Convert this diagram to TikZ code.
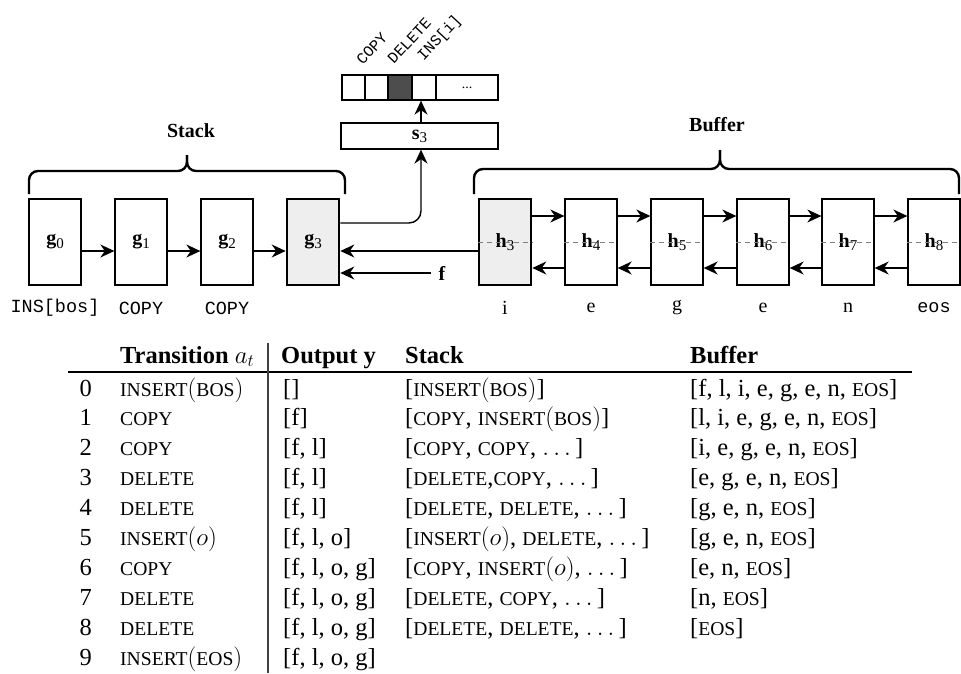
\documentclass[tikz,border=0pt]{standalone}
\usepackage{fontspec}
\setmainfont{Liberation Serif}
\setmonofont{Liberation Mono}
\usetikzlibrary{arrows.meta,calc}
\definecolor{curgray}{HTML}{EEEEEE}
\definecolor{darkcell}{HTML}{4D4D4D}
\newcommand\smc[1]{{\fontsize{19.6}{24}\selectfont #1}}
\newcommand\subx[1]{\raisebox{-0.35ex}{\fontsize{15}{15}\selectfont #1}}
\begin{document}
\begin{tikzpicture}[x=1pt,y=-1pt,
  box/.style={draw, line width=1.3pt, minimum width=52pt, minimum height=86pt, inner sep=0pt, font=\fontsize{20}{24}\selectfont},
  curbox/.style={box, fill=curgray, line width=2.6pt},
  cell/.style={draw, line width=1.3pt, minimum height=25pt, inner sep=0pt},
  arr/.style={line width=1.4pt, -{Stealth[length=14pt,width=13pt,inset=4.5pt]}},
  hdash/.style={draw=black!50, line width=1pt, dash pattern=on 5pt off 4pt},
  brace/.style={line width=2.4pt, rounded corners=9pt},
  lbl/.style={font=\fontsize{20}{24}\selectfont, inner sep=1pt},
  ttl/.style={font=\ttfamily\fontsize{18.5}{22}\selectfont, inner sep=1pt},
  rotl/.style={font=\ttfamily\fontsize{15.5}{18}\selectfont, rotate=47, anchor=south west, inner sep=0pt},
  tcell/.style={font=\fontsize{24.5}{29}\selectfont, inner sep=0pt, anchor=base west}
]
\useasboundingbox (0,0) rectangle (961,673);

% stack boxes
\node[box] (g0) at (55,242) {\textbf{g}\subx{0}};
\node[box] (g1) at (141,242) {\textbf{g}\subx{1}};
\node[box] (g2) at (227,242) {\textbf{g}\subx{2}};
\node[curbox] (g3) at (313,242) {\textbf{g}\subx{3}};

% buffer boxes
\node[curbox] (h3) at (505,242) {\textbf{h}\subx{3}};
\node[box] (h4) at (591,242) {\textbf{h}\subx{4}};
\node[box] (h5) at (677,242) {\textbf{h}\subx{5}};
\node[box] (h6) at (763,242) {\textbf{h}\subx{6}};
\node[box] (h7) at (848,242) {\textbf{h}\subx{7}};
\node[box] (h8) at (934,242) {\textbf{h}\subx{8}};
\foreach \j in {3,...,8} \draw[hdash] (h\j.west) -- (h\j.east);

% stack arrows
\draw[arr] ([yshift=-9pt]g0.east) -- ([yshift=-9pt]g1.west);
\draw[arr] ([yshift=-9pt]g1.east) -- ([yshift=-9pt]g2.west);
\draw[arr] ([yshift=-9pt]g2.east) -- ([yshift=-9pt]g3.west);

% buffer arrows
\foreach \a/\b in {3/4,4/5,5/6,6/7,7/8} {
  \draw[arr] ([yshift=26pt]h\a.east) -- ([yshift=26pt]h\b.west);
  \draw[arr] ([yshift=-26pt]h\b.west) -- ([yshift=-26pt]h\a.east);
}

% h3 -> g3 and f
\draw[arr] ([yshift=-9pt]h3.west) -- ([yshift=-9pt]g3.east);
\node[lbl, inner xsep=7pt] (f) at (442,273) {\textbf{f}};
\draw[arr] (f.west) -- (f.west -| g3.east);

% output vector and s3
\node[cell, minimum width=23pt] (v1) at (353.5,87.5) {};
\node[cell, minimum width=23pt] (v2) at (376.5,87.5) {};
\node[cell, minimum width=24pt, fill=darkcell] (v3) at (400,87.5) {};
\node[cell, minimum width=24pt] (v4) at (424,87.5) {};
\node[cell, minimum width=62pt, font=\fontsize{14}{16}\selectfont] (v5) at (467,87.5) {...};
\node[cell, minimum width=157pt, minimum height=26pt, font=\fontsize{20}{24}\selectfont] (s3) at (419.5,136) {\textbf{s}\subx{3}};
\coordinate (sx) at (421,0);
\draw[arr, rounded corners=12pt] ([yshift=19pt]g3.east) -| (sx |- s3.south);
\draw[arr] (sx |- s3.north) -- (sx |- v4.south);

\node[rotl] (rc) at (363,66) {COPY};
\node[rotl] (rd) at (394,65) {DELETE};
\node[rotl] (ri) at (426,64) {INS[i]};

% braces
\draw[brace] (29,194) -- (29,171) -- (187,171) -- (187,155);
\draw[brace] (345,194) -- (345,171) -- (187,171) -- (187,155);
\draw[brace] (474,194) -- (474,169) -- (720,169) -- (720,150);
\draw[brace] (959,194) -- (959,169) -- (720,169) -- (720,150);
\node[lbl] (stk) at (191,131) {\textbf{Stack}};
\node[lbl] (buf) at (717,125) {\textbf{Buffer}};

% labels under boxes
\node[ttl] (lg0) at (g0.center |- 0,308) {INS[bos]};
\node[ttl] (lg1) at (g1.center |- 0,308) {COPY};
\node[ttl] (lg2) at (g2.center |- 0,308) {COPY};
\node[lbl] (lh3) at (h3.center |- 0,308) {i};
\node[lbl] (lh4) at (h4.center |- 0,308) {e};
\node[lbl] (lh5) at (h5.center |- 0,308) {g};
\node[lbl] (lh6) at (h6.center |- 0,308) {e};
\node[lbl] (lh7) at (h7.center |- 0,308) {n};
\node[ttl] (lh8) at (h8.center |- 0,308) {eos};

% table
\node[tcell] (hT) at (120,363) {\textbf{Transition} $a_t$};
\node[tcell] (hO) at (281,363) {\textbf{Output y}};
\node[tcell] (hS) at (405,363) {\textbf{Stack}};
\node[tcell] (hB) at (690,363) {\textbf{Buffer}};
\draw[line width=1.1pt] (68,372) -- (912,372);
\draw[line width=1.1pt, black!75] (268,343) -- (268,673);

\foreach \rn/\rt/\ro/\rs/\rb in {
 0/{\smc{INSERT}$($\smc{BOS}$)$}/{[]}/{[\smc{INSERT}$($\smc{BOS}$)$]}/{[f, l, i, e, g, e, n, \smc{EOS}]},
 1/{\smc{COPY}}/{[f]}/{[\smc{COPY}, \smc{INSERT}$($\smc{BOS}$)$]}/{[l, i, e, g, e, n, \smc{EOS}]},
 2/{\smc{COPY}}/{[f, l]}/{[\smc{COPY}, \smc{COPY}, $\ldots$\,]}/{[i, e, g, e, n, \smc{EOS}]},
 3/{\smc{DELETE}}/{[f, l]}/{[\smc{DELETE},\smc{COPY}, $\ldots$\,]}/{[e, g, e, n, \smc{EOS}]},
 4/{\smc{DELETE}}/{[f, l]}/{[\smc{DELETE}, \smc{DELETE}, $\ldots$\,]}/{[g, e, n, \smc{EOS}]},
 5/{\smc{INSERT}$(o)$}/{[f, l, o]}/{[\smc{INSERT}$(o)$, \smc{DELETE}, $\ldots$\,]}/{[g, e, n, \smc{EOS}]},
 6/{\smc{COPY}}/{[f, l, o, g]}/{[\smc{COPY}, \smc{INSERT}$(o)$, $\ldots$\,]}/{[e, n, \smc{EOS}]},
 7/{\smc{DELETE}}/{[f, l, o, g]}/{[\smc{DELETE}, \smc{COPY}, $\ldots$\,]}/{[n, \smc{EOS}]},
 8/{\smc{DELETE}}/{[f, l, o, g]}/{[\smc{DELETE}, \smc{DELETE}, $\ldots$\,]}/{[\smc{EOS}]},
 9/{\smc{INSERT}$($\smc{EOS}$)$}/{[f, l, o, g]}/{}/{}
}{
  \pgfmathsetmacro\ry{396+29.9*\rn}
  \node[tcell, anchor=base east] (n\rn) at (92,\ry) {\rn};
  \node[tcell] (tr\rn) at (120,\ry) {\rt};
  \node[tcell] (out\rn) at (283,\ry) {\ro};
  \node[tcell] (st\rn) at (405,\ry) {\rs};
  \node[tcell] (bf\rn) at (690,\ry) {\rb};
}
\end{tikzpicture}
\end{document}
